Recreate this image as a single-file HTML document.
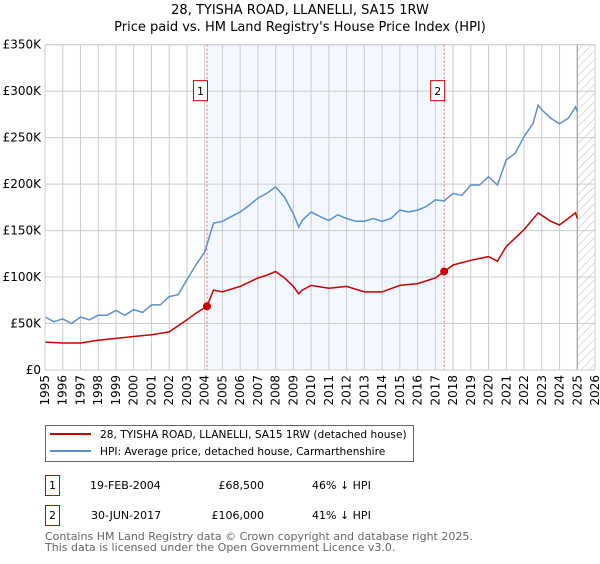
<!DOCTYPE html>
<html><head><meta charset="utf-8"><style>
body{margin:0;background:#fff;width:600px;height:560px;overflow:hidden;font-family:"DejaVu Sans","Liberation Sans",sans-serif}
svg text{font-family:"DejaVu Sans","Liberation Sans",sans-serif}
</style></head><body>
<svg id="chart" width="600" height="560" viewBox="0 0 600 560">
<defs><pattern id="hatch" width="6" height="6" patternUnits="userSpaceOnUse" patternTransform="rotate(45)"><line x1="0" y1="0" x2="0" y2="6" stroke="#bbb" stroke-width="1"/></pattern></defs>
<text x="300" y="14" text-anchor="middle" font-size="13" fill="#000">28, TYISHA ROAD, LLANELLI, SA15 1RW</text>
<text x="300" y="31" text-anchor="middle" font-size="13" fill="#000">Price paid vs. HM Land Registry's House Price Index (HPI)</text>
<g id="plot"></g>
<g>
<rect x="45.5" y="425.5" width="368" height="36" fill="#fff" stroke="#666"/>
<line x1="50" y1="434" x2="91" y2="434" stroke="#cc0000" stroke-width="2"/>
<text x="100" y="438" font-size="10.6">28, TYISHA ROAD, LLANELLI, SA15 1RW (detached house)</text>
<line x1="50" y1="451" x2="91" y2="451" stroke="#5b8fd0" stroke-width="2"/>
<text x="100" y="455" font-size="10.6">HPI: Average price, detached house, Carmarthenshire</text>
</g>
<g font-size="11">
<rect x="45.5" y="475.5" width="14" height="20" fill="#fff" stroke="#cc0000"/>
<text x="52.5" y="489" text-anchor="middle">1</text>
<text x="90" y="489">19-FEB-2004</text>
<text x="264" y="489" text-anchor="end">£68,500</text>
<text x="312" y="489">46% ↓ HPI</text>
<rect x="45.5" y="505.5" width="14" height="20" fill="#fff" stroke="#cc0000"/>
<text x="52.5" y="519" text-anchor="middle">2</text>
<text x="91" y="519">30-JUN-2017</text>
<text x="264" y="519" text-anchor="end">£106,000</text>
<text x="312" y="519">41% ↓ HPI</text>
</g>
<text x="45" y="540" font-size="11" fill="#666">Contains HM Land Registry data © Crown copyright and database right 2025.</text>
<text x="45" y="551" font-size="11" fill="#666">This data is licensed under the Open Government Licence v3.0.</text>
</svg>
<script>
const hpiYears=[1995,1995.5,1996,1996.5,1997,1997.5,1998,1998.5,1999,1999.5,2000,2000.5,2001,2001.5,2002,2002.5,2003,2003.5,2004,2004.5,2005,2005.5,2006,2006.5,2007,2007.5,2008,2008.5,2009,2009.3,2009.5,2010,2010.5,2011,2011.5,2012,2012.5,2013,2013.5,2014,2014.5,2015,2015.5,2016,2016.5,2017,2017.5,2018,2018.5,2019,2019.5,2020,2020.5,2021,2021.5,2022,2022.5,2022.8,2023,2023.5,2024,2024.5,2024.9,2025];
const hpiValues=[57,52,55,50,57,54,59,59,64,59,65,62,70,70,79,81,97,113,127,158,160,165,170,177,185,190,197,186,168,154,161,170,165,161,167,163,160,160,163,160,163,172,170,172,176,183,182,190,188,199,199,208,199,226,233,251,265,285,280,271,265,271,283,278];
const propYears=[1995,1996,1997,1998,1999,2000,2001,2002,2003,2003.5,2004.13,2004.5,2005,2006,2007,2007.5,2008,2008.5,2009,2009.3,2009.5,2010,2011,2012,2013,2014,2015,2016,2017,2017.5,2018,2019,2020,2020.5,2021,2022,2022.8,2023.5,2024,2024.9,2025];
const propValues=[30,29,29,32,34,36,38,41,54,61,68.5,86,84,90,99,102,106,99,90,82,86,91,88,90,84,84,91,93,99,106,113,118,122,117,133,151,169,160,156,169,163];
const saleYears=[2004.13,2017.5];
const saleValues=[68.5,106];
const saleLabels=["1","2"];
const yTicks=[0,50,100,150,200,250,300,350];
const yTickLabels=["£0","£50K","£100K","£150K","£200K","£250K","£300K","£350K"];
const xTicks=[1995,1996,1997,1998,1999,2000,2001,2002,2003,2004,2005,2006,2007,2008,2009,2010,2011,2012,2013,2014,2015,2016,2017,2018,2019,2020,2021,2022,2023,2024,2025,2026];

const L=45,R=595,T=44.7,B=370;
const X=y=>L+(y-1995)/(2026-1995)*(R-L);
const Y=v=>B-v/350*(B-T);
const g=document.getElementById('plot');
const NS='http://www.w3.org/2000/svg';
function mk(tag,attrs,parent){const e=document.createElementNS(NS,tag);for(const k in attrs)e.setAttribute(k,attrs[k]);(parent||g).appendChild(e);return e;}

let e=mk('rect',{x:X(saleYears[0]),y:T,width:X(saleYears[1])-X(saleYears[0]),height:B-T,fill:'#eef3fd',opacity:0.7});


e=mk('rect',{x:X(2025),y:T,width:R-X(2025),height:B-T,fill:'url(#hatch)'});



yTicks.forEach((t,i)=>{
 const l=mk('line',{x1:L,x2:R,y1:Y(t),y2:Y(t),stroke:'#ccc','stroke-width':1});
 
 
 const tx=mk('text',{x:L-4,y:Y(t)+4,'text-anchor':'end','font-size':12,fill:'#000'});
 tx.textContent=yTickLabels[i];
 
 
});
xTicks.forEach(t=>{
 const l=mk('line',{x1:X(t),x2:X(t),y1:T,y2:B,stroke:'#ccc','stroke-width':1});
 
 
 const tx=mk('text',{x:0,y:0,'text-anchor':'end','font-size':12,fill:'#000',transform:`translate(${X(t)+4},${B+5}) rotate(-90)`});
 tx.textContent=t;
 
 
});
e=mk('line',{x1:X(2025),x2:X(2025),y1:T,y2:B,stroke:'#999','stroke-width':1});



saleYears.forEach((s,i)=>{
 const l=mk('line',{x1:X(s),x2:X(s),y1:T,y2:B,stroke:'#f06060','stroke-width':1,'stroke-dasharray':'2,2'});
 
 
 const r=mk('rect',{x:X(s)-13.5,y:Y(300)-10.5,width:14,height:20,fill:'#fff',stroke:'#cc0000'});
 
 
 const tx=mk('text',{x:X(s)-6.5,y:Y(300)+4,'text-anchor':'middle','font-size':11});
 tx.textContent=saleLabels[i];
 
 
});

const path=(xs,vs)=>xs.map((y,i)=>(i?'L':'M')+X(y).toFixed(1)+','+Y(vs[i]).toFixed(1)).join('');
e=mk('path',{d:path(hpiYears,hpiValues),fill:'none',stroke:'#5b8fd0','stroke-width':1.5});


e=mk('path',{d:path(propYears,propValues),fill:'none',stroke:'#cc0000','stroke-width':1.5});


saleYears.forEach((s,i)=>{
 const c=mk('circle',{cx:X(s),cy:Y(saleValues[i]),r:4,fill:'#cc0000'});
 
 
});
e=mk('rect',{x:L,y:T,width:R-L,height:B-T,fill:'none',stroke:'#ccc'});


</script>
</body></html>
